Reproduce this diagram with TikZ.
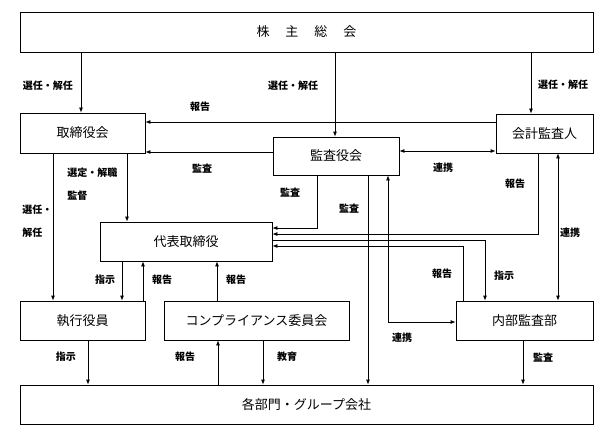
\documentclass[tikz,border=0pt]{standalone}
\usepackage{fontspec}
\setmainfont{Noto Sans CJK JP}
\usetikzlibrary{arrows.meta}

\begin{document}
\begin{tikzpicture}[x=1pt,y=-1pt,line width=0.8pt,
                box/.style={draw,inner sep=0pt,minimum height=39pt,font=\fontsize{13}{13}\selectfont},
                lbl/.style={inner sep=0pt,font=\fontsize{10}{23}\selectfont\bfseries},
                arr/.style={-{Latex[length=5pt,width=4pt]}},
                both/.style={{Latex[length=5pt,width=4pt]}-{Latex[length=5pt,width=4pt]}}]
                \useasboundingbox (0,0) rectangle (611,436);
                % boxes
                \node[box,minimum width=573pt,minimum height=40pt] (gm) at (306.5,32) {株\hspace{16pt}主\hspace{16pt}総\hspace{16pt}会};
                \node[box,minimum width=125pt,minimum height=40pt] (tb) at (82.5,133) {取締役会};
                \node[box,minimum width=126pt,minimum height=38pt] (kk) at (336,156) {監査役会};
                \node[box,minimum width=97pt] (ka) at (544.5,133.5) {会計監査人};
                \node[box,minimum width=172pt] (ceo) at (186,241.5) {代表取締役};
                \node[box,minimum width=125pt] (sy) at (82.5,320.5) {執行役員};
                \node[box,minimum width=185pt] (cc) at (256.5,320.5) {コンプライアンス委員会};
                \node[box,minimum width=137pt] (na) at (524.5,320.5) {内部監査部};
                \node[box,minimum width=573pt] (bm) at (306.5,404.5) {各部門・グループ会社};
                % from the shareholders
                \draw[arr] (81,0 |- gm.south) -- (81,0 |- tb.north);
                \draw[arr] (335,0 |- gm.south) -- (335,0 |- kk.north);
                \draw[arr] (531,0 |- gm.south) -- (531,0 |- ka.north);
                \node[lbl] (l1) at (48,86) {選任・解任};
                \node[lbl] (l2) at (293,86) {選任・解任};
                \node[lbl] (l3) at (563,85) {選任・解任};
                % into the board
                \draw[arr] (ka.west |- 0,122) -- (tb.east |- 0,122);
                \draw[arr] (kk.west |- 0,152) -- (tb.east |- 0,152);
                \draw[both] (kk.east |- 0,151) -- (ka.west |- 0,151);
                \node[lbl] (l4) at (200,107) {報告};
                \node[lbl] (l5) at (202,169) {監査};
                \node[lbl] (l6) at (443,168) {連携};
                % board downwards
                \draw[arr] (53,0 |- tb.south) -- (53,0 |- sy.north);
                \draw[arr] (127,0 |- tb.south) -- (127,0 |- ceo.north);
                \node[lbl,anchor=west,align=left] (l7) at (22,221.5) {選任・\\解任};
                \node[lbl,anchor=west,align=left] (l8) at (67,184.5) {選定・解職\\監督};
                \draw[arr] (122,0 |- ceo.south) -- (122,0 |- sy.north);
                \draw[arr] (143,0 |- sy.north) -- (143,0 |- ceo.south);
                \draw[arr] (217,0 |- cc.north) -- (217,0 |- ceo.south);
                \node[lbl] (l9) at (105,280) {指示};
                \node[lbl] (l10) at (162,280) {報告};
                \node[lbl] (l11) at (236,280) {報告};
                % right side of the representative director
                \draw[arr] (317,0 |- kk.south) |- (ceo.east |- 0,228);
                \draw[arr] (538,0 |- ka.south) |- (ceo.east |- 0,234);
                \draw[arr] (ceo.east |- 0,240) -| (485,0 |- na.north);
                \draw[arr] (463,0 |- na.north) |- (ceo.east |- 0,246);
                \node[lbl] (l12) at (290,193) {監査};
                \node[lbl] (l13) at (515,184) {報告};
                \node[lbl] (l14) at (504,276) {指示};
                \node[lbl] (l15) at (442,274) {報告};
                % audit board and auditors
                \draw[arr] (368,0 |- kk.south) -- (368,0 |- bm.north);
                \draw[both] (388,0 |- kk.south) |- (na.west |- 0,322);
                \draw[both] (558,0 |- ka.south) -- (558,0 |- na.north);
                \node[lbl] (l16) at (349,209) {監査};
                \node[lbl] (l17) at (402,338) {連携};
                \node[lbl] (l18) at (570,233) {連携};
                % into the divisions
                \draw[arr] (88,0 |- sy.south) -- (88,0 |- bm.north);
                \draw[arr] (218,0 |- bm.north) -- (218,0 |- cc.south);
                \draw[arr] (263,0 |- cc.south) -- (263,0 |- bm.north);
                \draw[arr] (523,0 |- na.south) -- (523,0 |- bm.north);
                \node[lbl] (l19) at (66,357) {指示};
                \node[lbl] (l20) at (185,357) {報告};
                \node[lbl] (l21) at (287,357) {教育};
                \node[lbl] (l22) at (543,358) {監査};
            \end{tikzpicture}
\end{document}
